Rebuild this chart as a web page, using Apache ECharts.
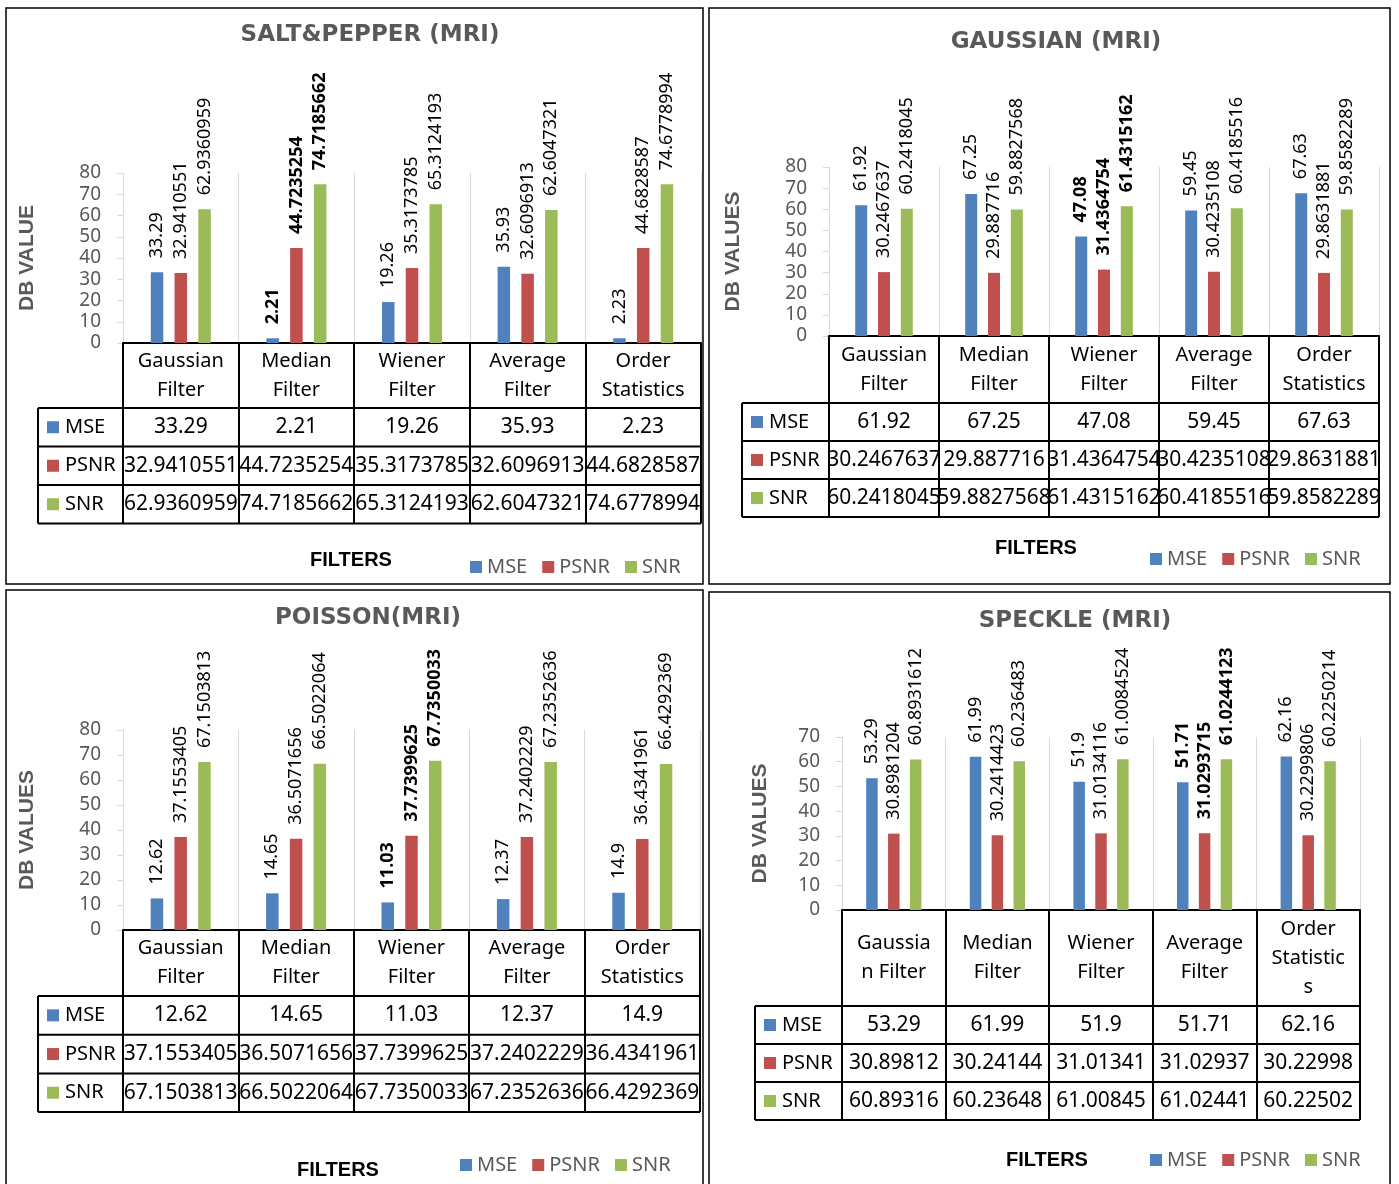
<!DOCTYPE html>
<html>
<head>
<meta charset="utf-8">
<script src="https://cdn.jsdelivr.net/npm/echarts@6/dist/echarts.min.js"></script>
<style>
  html, body { margin: 0; padding: 0; background: #fff; }
  #chart { width: 1399px; height: 1184px; }
</style>
</head>
<body>
<div id="chart"></div>
<script>
// series and categories
const seriesNames = ['MSE', 'PSNR', 'SNR'];
const seriesColors = ['#4F81BD', '#C0504D', '#9BBB59'];
const filterLabels = ['Gaussian\nFilter', 'Median\nFilter', 'Wiener\nFilter', 'Average\nFilter', 'Order\nStatistics'];
const speckleLabels = ['Gaussia\nn Filter', 'Median\nFilter', 'Wiener\nFilter', 'Average\nFilter', 'Order\nStatistic\ns'];

// salt & pepper
const saltMSE = [33.29, 2.21, 19.26, 35.93, 2.23];
const saltPSNR = [32.9410551, 44.7235254, 35.3173785, 32.6096913, 44.6828587];
const saltSNR = [62.9360959, 74.7185662, 65.3124193, 62.6047321, 74.6778994];

// gaussian
const gaussMSE = [61.92, 67.25, 47.08, 59.45, 67.63];
const gaussPSNR = [30.2467637, 29.887716, 31.4364754, 30.4235108, 29.8631881];
const gaussSNR = [60.2418045, 59.8827568, 61.4315162, 60.4185516, 59.8582289];

// poisson
const poisMSE = [12.62, 14.65, 11.03, 12.37, 14.9];
const poisPSNR = [37.1553405, 36.5071656, 37.7399625, 37.2402229, 36.4341961];
const poisSNR = [67.1503813, 66.5022064, 67.7350033, 67.2352636, 66.4292369];

// speckle
const speckMSE = [53.29, 61.99, 51.9, 51.71, 62.16];
const speckPSNR = [30.8981204, 30.2414423, 31.0134116, 31.0293715, 30.2299806];
const speckSNR = [60.8931612, 60.236483, 61.0084524, 61.0244123, 60.2250214];

const panels = [
  { title: 'SALT&PEPPER (MRI)', yName: 'DB VALUE', cats: filterLabels, values: [saltMSE, saltPSNR, saltSNR], bold: 1, yMax: 80, digits: null },
  { title: 'GAUSSIAN (MRI)', yName: 'DB VALUES', cats: filterLabels, values: [gaussMSE, gaussPSNR, gaussSNR], bold: 2, yMax: 80, digits: null },
  { title: 'POISSON(MRI)', yName: 'DB VALUES', cats: filterLabels, values: [poisMSE, poisPSNR, poisSNR], bold: 2, yMax: 80, digits: null },
  { title: 'SPECKLE (MRI)', yName: 'DB VALUES', cats: speckleLabels, values: [speckMSE, speckPSNR, speckSNR], bold: 3, yMax: 70, digits: 5 }
];

// page layout of each panel
const layouts = [
  { box: [6, 8, 697, 576], left: 123, right: 701, top: 173, bottom: 343, labelLeft: 38, headerH: 65, rowH: 38.5, barW: 12.5, nameGap: 85,
    titleX: 370, titleY: 35, filtersX: 351, filtersY: 560, legendX: 470, legendY: 557 },
  { box: [709, 8, 681, 576], left: 829, right: 1379, top: 167, bottom: 336, labelLeft: 742, headerH: 67, rowH: 38, barW: 12, nameGap: 85,
    titleX: 1056, titleY: 42, filtersX: 1036, filtersY: 548, legendX: 1150, legendY: 549 },
  { box: [6, 590, 697, 600], left: 123, right: 700, top: 730, bottom: 930, labelLeft: 38, headerH: 66, rowH: 38.7, barW: 12.5, nameGap: 85,
    titleX: 368, titleY: 618, filtersX: 338, filtersY: 1170, legendX: 460, legendY: 1155 },
  { box: [709, 592, 681, 598], left: 842, right: 1360, top: 737, bottom: 910, labelLeft: 755, headerH: 96, rowH: 38, barW: 11.5, nameGap: 71,
    titleX: 1075, titleY: 621, filtersX: 1047, filtersY: 1160, legendX: 1150, legendY: 1150 }
];

const FONT = '"Noto Sans", sans-serif';
const option = {
  animation: false,
  backgroundColor: '#fff',
  legend: [], grid: [], xAxis: [], yAxis: [], series: [], graphic: []
};

panels.forEach((p, k) => {
  const L = layouts[k];
  const tableH = L.headerH + 3 * L.rowH;
  const rowsTop = L.bottom + L.headerH;
  const catW = (L.right - L.left) / p.cats.length;
  const g = option.graphic;

  g.push({ type: 'rect', shape: { x: L.box[0], y: L.box[1], width: L.box[2], height: L.box[3] },
    style: { fill: 'none', stroke: '#000', lineWidth: 1.5 } });
  g.push({ type: 'text', x: L.titleX, y: L.titleY,
    style: { text: p.title, fill: '#595959', fontSize: 23, fontWeight: 'bold', fontFamily: '"DejaVu Sans"', align: 'center', verticalAlign: 'middle' } });
  g.push({ type: 'text', x: L.filtersX, y: L.filtersY,
    style: { text: 'FILTERS', fill: '#000', fontSize: 20, fontWeight: 'bold', fontFamily: '"Liberation Sans"', align: 'center', verticalAlign: 'middle' } });

  option.grid.push({ left: L.left, top: L.top, width: L.right - L.left, height: L.bottom - L.top, outerBoundsMode: 'none' });

  option.xAxis.push({
    type: 'category', gridIndex: k, data: p.cats,
    axisLine: { lineStyle: { color: '#000', width: 2 } },
    axisTick: { show: true, length: tableH, lineStyle: { color: '#000', width: 2 } },
    splitLine: { show: true, lineStyle: { color: '#d9d9d9', width: 1 } },
    axisLabel: { interval: 0, margin: L.headerH / 2, verticalAlign: 'middle', lineHeight: 29,
      fontSize: 20, fontFamily: FONT, color: '#000' }
  });

  option.yAxis.push({
    type: 'value', gridIndex: k, min: 0, max: p.yMax, interval: 10,
    name: p.yName, nameLocation: 'middle', nameGap: L.nameGap, nameRotate: 90,
    nameTextStyle: { fontSize: 21, fontWeight: 'bold', fontFamily: '"Liberation Sans"', color: '#595959' },
    axisLine: { show: true, lineStyle: { color: '#d9d9d9' } },
    axisTick: { show: true, length: 6, lineStyle: { color: '#d9d9d9' } },
    splitLine: { show: false },
    axisLabel: { margin: 22, fontSize: 19, fontFamily: FONT, color: '#595959' }
  });

  p.values.forEach((vals, s) => {
    option.series.push({
      name: seriesNames[s], type: 'bar', xAxisIndex: k, yAxisIndex: k,
      barWidth: L.barW, barGap: '90%',
      itemStyle: { color: seriesColors[s] },
      label: { show: true, position: 'top', rotate: 90, align: 'left', verticalAlign: 'middle', distance: 14,
        fontSize: 18, fontFamily: FONT, color: '#000' },
      data: vals.map((v, i) => i === p.bold ? { value: v, label: { fontWeight: 'bold' } } : v)
    });

    // data table row (the MSE row is never rounded)
    const cy = rowsTop + (s + 0.5) * L.rowH;
    g.push({ type: 'rect', shape: { x: L.labelLeft + 9, y: cy - 6, width: 12, height: 12 }, style: { fill: seriesColors[s] } });
    g.push({ type: 'text', x: L.labelLeft + 27, y: cy,
      style: { text: seriesNames[s], fill: '#000', fontSize: 20, fontFamily: FONT, align: 'left', verticalAlign: 'middle' } });
    vals.forEach((v, i) => {
      const txt = (p.digits && s > 0) ? v.toFixed(p.digits) : String(v);
      g.push({ type: 'text', x: L.left + (i + 0.5) * catW, y: cy,
        style: { text: txt, fill: '#000', fontSize: 21, fontFamily: FONT, align: 'center', verticalAlign: 'middle' } });
    });
  });

  // table horizontal rules and label column edge
  for (let r = 0; r <= 3; r++) {
    const y = rowsTop + r * L.rowH;
    g.push({ type: 'line', shape: { x1: L.labelLeft, y1: y, x2: L.right, y2: y }, style: { stroke: '#000', lineWidth: 2 } });
  }
  g.push({ type: 'line', shape: { x1: L.labelLeft, y1: rowsTop, x2: L.labelLeft, y2: rowsTop + 3 * L.rowH }, style: { stroke: '#000', lineWidth: 2 } });

  option.legend.push({
    data: seriesNames, left: L.legendX, top: L.legendY, padding: 0,
    icon: 'rect', itemWidth: 12, itemHeight: 12, itemGap: 15, selectedMode: false,
    textStyle: { color: '#595959', fontSize: 20, fontFamily: FONT }
  });
});

const chart = echarts.init(document.getElementById('chart'));
chart.setOption(option);
</script>
</body>
</html>
